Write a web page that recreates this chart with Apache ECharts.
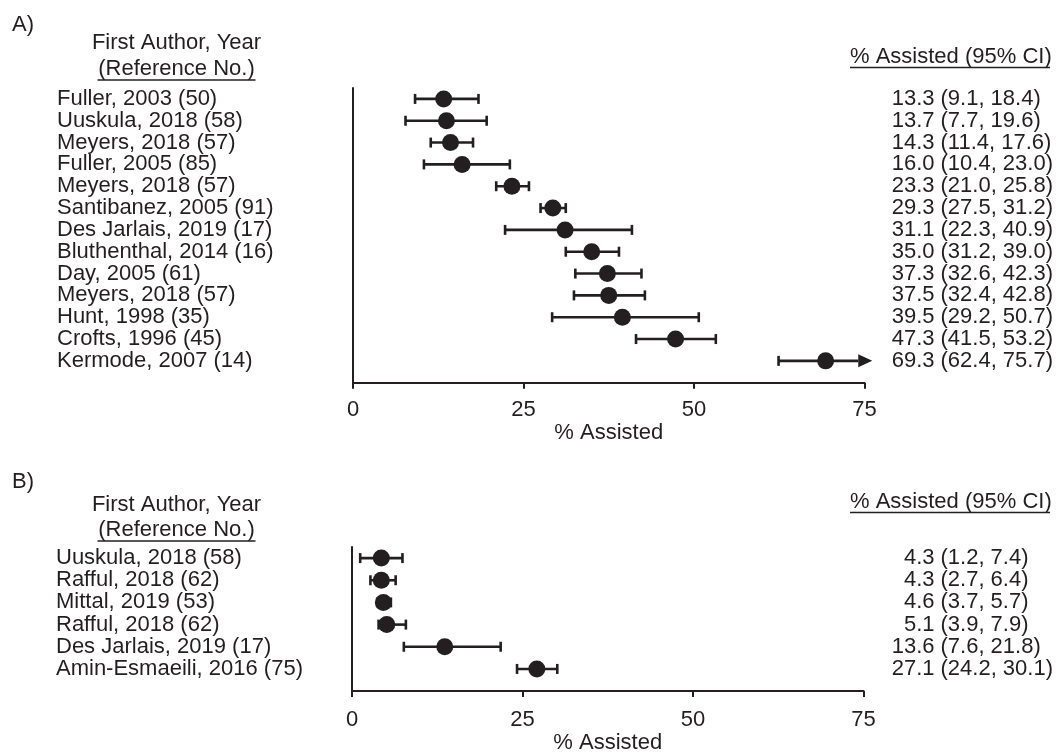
<!DOCTYPE html>
<html>
<head>
<meta charset="utf-8">
<script src="https://cdn.jsdelivr.net/npm/echarts@6/dist/echarts.min.js"></script>
<style>html,body{margin:0;padding:0;background:#fff}#c{width:1056px;height:755px}</style>
</head>
<body>
<div id="c"></div>
<script>
// ---- Data ----
const authorsA = ["Fuller, 2003 (50)","Uuskula, 2018 (58)","Meyers, 2018 (57)","Fuller, 2005 (85)","Meyers, 2018 (57)","Santibanez, 2005 (91)","Des Jarlais, 2019 (17)","Bluthenthal, 2014 (16)","Day, 2005 (61)","Meyers, 2018 (57)","Hunt, 1998 (35)","Crofts, 1996 (45)","Kermode, 2007 (14)"];
const estA = [13.3,13.7,14.3,16.0,23.3,29.3,31.1,35.0,37.3,37.5,39.5,47.3,69.3];
const loA  = [9.1,7.7,11.4,10.4,21.0,27.5,22.3,31.2,32.6,32.4,29.2,41.5,62.4];
const hiA  = [18.4,19.6,17.6,23.0,25.8,31.2,40.9,39.0,42.3,42.8,50.7,53.2,75.7];

const authorsB = ["Uuskula, 2018 (58)","Rafful, 2018 (62)","Mittal, 2019 (53)","Rafful, 2018 (62)","Des Jarlais, 2019 (17)","Amin-Esmaeili, 2016 (75)"];
const estB = [4.3,4.3,4.6,5.1,13.6,27.1];
const loB  = [1.2,2.7,3.7,3.9,7.6,24.2];
const hiB  = [7.4,6.4,5.7,7.9,21.8,30.1];

const xMin = 0, xMax = 75, xInterval = 25;
const axisTitle = "% Assisted";
const colHeader1 = "First Author, Year";
const colHeader2 = "(Reference No.)";
const colHeaderR = "% Assisted (95% CI)";

// ---- Styling ----
const INK = '#231f20';
const FONT = 'Liberation Sans';
const FS = 22;

function rows(n){ return Array.from({length:n},(_,i)=>i+1); }
const lab = {fontSize:FS, fontFamily:FONT, color:INK};

function yAxes(gi, authors, est, lo, hi, estMargin, ciMargin){
  const n = authors.length;
  const base = {gridIndex: gi, type:'value', min:0.5, max:n+1, inverse:true,
    axisTick:{show:false}, splitLine:{show:false}};
  return [
    Object.assign({}, base, {
      axisLine:{show:true, lineStyle:{color:INK, width:2}},
      axisLabel:Object.assign({customValues: rows(n), formatter: v => authors[v-1] || '',
        align:'left', margin:296}, lab)
    }),
    Object.assign({}, base, {position:'right', axisLine:{show:false},
      axisLabel:Object.assign({customValues: rows(n),
        formatter: v => (v>=1 && v<=n) ? est[v-1].toFixed(1) : '',
        align:'right', margin:estMargin}, lab)
    }),
    Object.assign({}, base, {position:'right', axisLine:{show:false},
      axisLabel:Object.assign({customValues: rows(n),
        formatter: v => (v>=1 && v<=n) ? '(' + lo[v-1].toFixed(1) + ', ' + hi[v-1].toFixed(1) + ')' : '',
        align:'left', margin:ciMargin}, lab)
    })
  ];
}

function xAxis(gi, nameGap, labelMargin){
  return {
    gridIndex: gi, type:'value', min:xMin, max:xMax, interval:xInterval,
    axisLine:{show:true, lineStyle:{color:INK, width:2}},
    axisTick:{show:true, length:6, lineStyle:{color:INK, width:2}},
    splitLine:{show:false},
    axisLabel:Object.assign({margin:labelMargin}, lab),
    name: axisTitle, nameLocation:'middle', nameGap:nameGap,
    nameTextStyle:lab
  };
}

function errSeries(gi, est, lo, hi){
  return {
    type:'custom', xAxisIndex:gi, yAxisIndex:gi*3, z:2,
    data: est.map((e,i)=>[lo[i], hi[i], i+1]),
    renderItem: function(params, api){
      const l = api.value(0), h = api.value(1), r = api.value(2);
      const p0 = api.coord([l, r]);
      const p1 = api.coord([h, r]);
      const children = [];
      const capH = 5;
      const sty = {stroke:INK, lineWidth:2.6};
      if (h > xMax) {
        const tip = p1[0] + 3, base = tip - 14;
        children.push({type:'line', shape:{x1:p0[0], y1:p0[1], x2:base, y2:p0[1]}, style:sty});
        children.push({type:'polygon', shape:{points:[[base, p0[1]-6.5],[tip, p0[1]],[base, p0[1]+6.5]]}, style:{fill:INK}});
        children.push({type:'line', shape:{x1:p0[0], y1:p0[1]-capH, x2:p0[0], y2:p0[1]+capH}, style:sty});
      } else {
        children.push({type:'line', shape:{x1:p0[0], y1:p0[1], x2:p1[0], y2:p1[1]}, style:sty});
        children.push({type:'line', shape:{x1:p0[0], y1:p0[1]-capH, x2:p0[0], y2:p0[1]+capH}, style:sty});
        children.push({type:'line', shape:{x1:p1[0], y1:p1[1]-capH, x2:p1[0], y2:p1[1]+capH}, style:sty});
      }
      return {type:'group', children};
    }
  };
}

function dotSeries(gi, est){
  return {
    type:'scatter', xAxisIndex:gi, yAxisIndex:gi*3, z:3,
    symbol:'circle', symbolSize:17, itemStyle:{color:INK, opacity:1},
    data: est.map((e,i)=>[e, i+1]), silent:true
  };
}

function txt(text, x, y, align){
  return {type:'text', style:{text, x, y, fill:INK, fontSize:FS, fontFamily:FONT,
    textAlign:align||'left', textVerticalAlign:'middle'}};
}
function uline(x1, x2, y){
  return {type:'line', shape:{x1, y1:y, x2, y2:y}, style:{stroke:INK, lineWidth:1.6}};
}

const yA = yAxes(0, authorsA, estA, loA, hiA, 70, 76);
const yB = yAxes(1, authorsB, estB, loB, hiB, 71, 77);

const option = {
  animation:false,
  backgroundColor:'#fff',
  textStyle:{fontFamily:FONT},
  grid:[
    {left:353, top:88, width:513, height:294.7},
    {left:352, top:547, width:514, height:149}
  ],
  xAxis:[xAxis(0, 37, 16), xAxis(1, 40, 18)],
  yAxis:yA.concat(yB),
  series:[
    errSeries(0, estA, loA, hiA), dotSeries(0, estA),
    errSeries(1, estB, loB, hiB), dotSeries(1, estB)
  ],
  graphic:[
    txt('A)', 12, 25),
    txt(colHeader1, 176.5, 43, 'center'),
    txt(colHeader2, 176.5, 69, 'center'),
    uline(97.5, 255.5, 80),
    txt(colHeaderR, 850, 57),
    uline(850, 1050, 67.5),
    txt('B)', 12, 482),
    txt(colHeader1, 176.5, 505, 'center'),
    txt(colHeader2, 176.5, 530, 'center'),
    uline(97.5, 255.5, 541),
    txt(colHeaderR, 850, 502),
    uline(850, 1050, 512.5)
  ]
};
echarts.init(document.getElementById('c')).setOption(option);
</script>
</body>
</html>
